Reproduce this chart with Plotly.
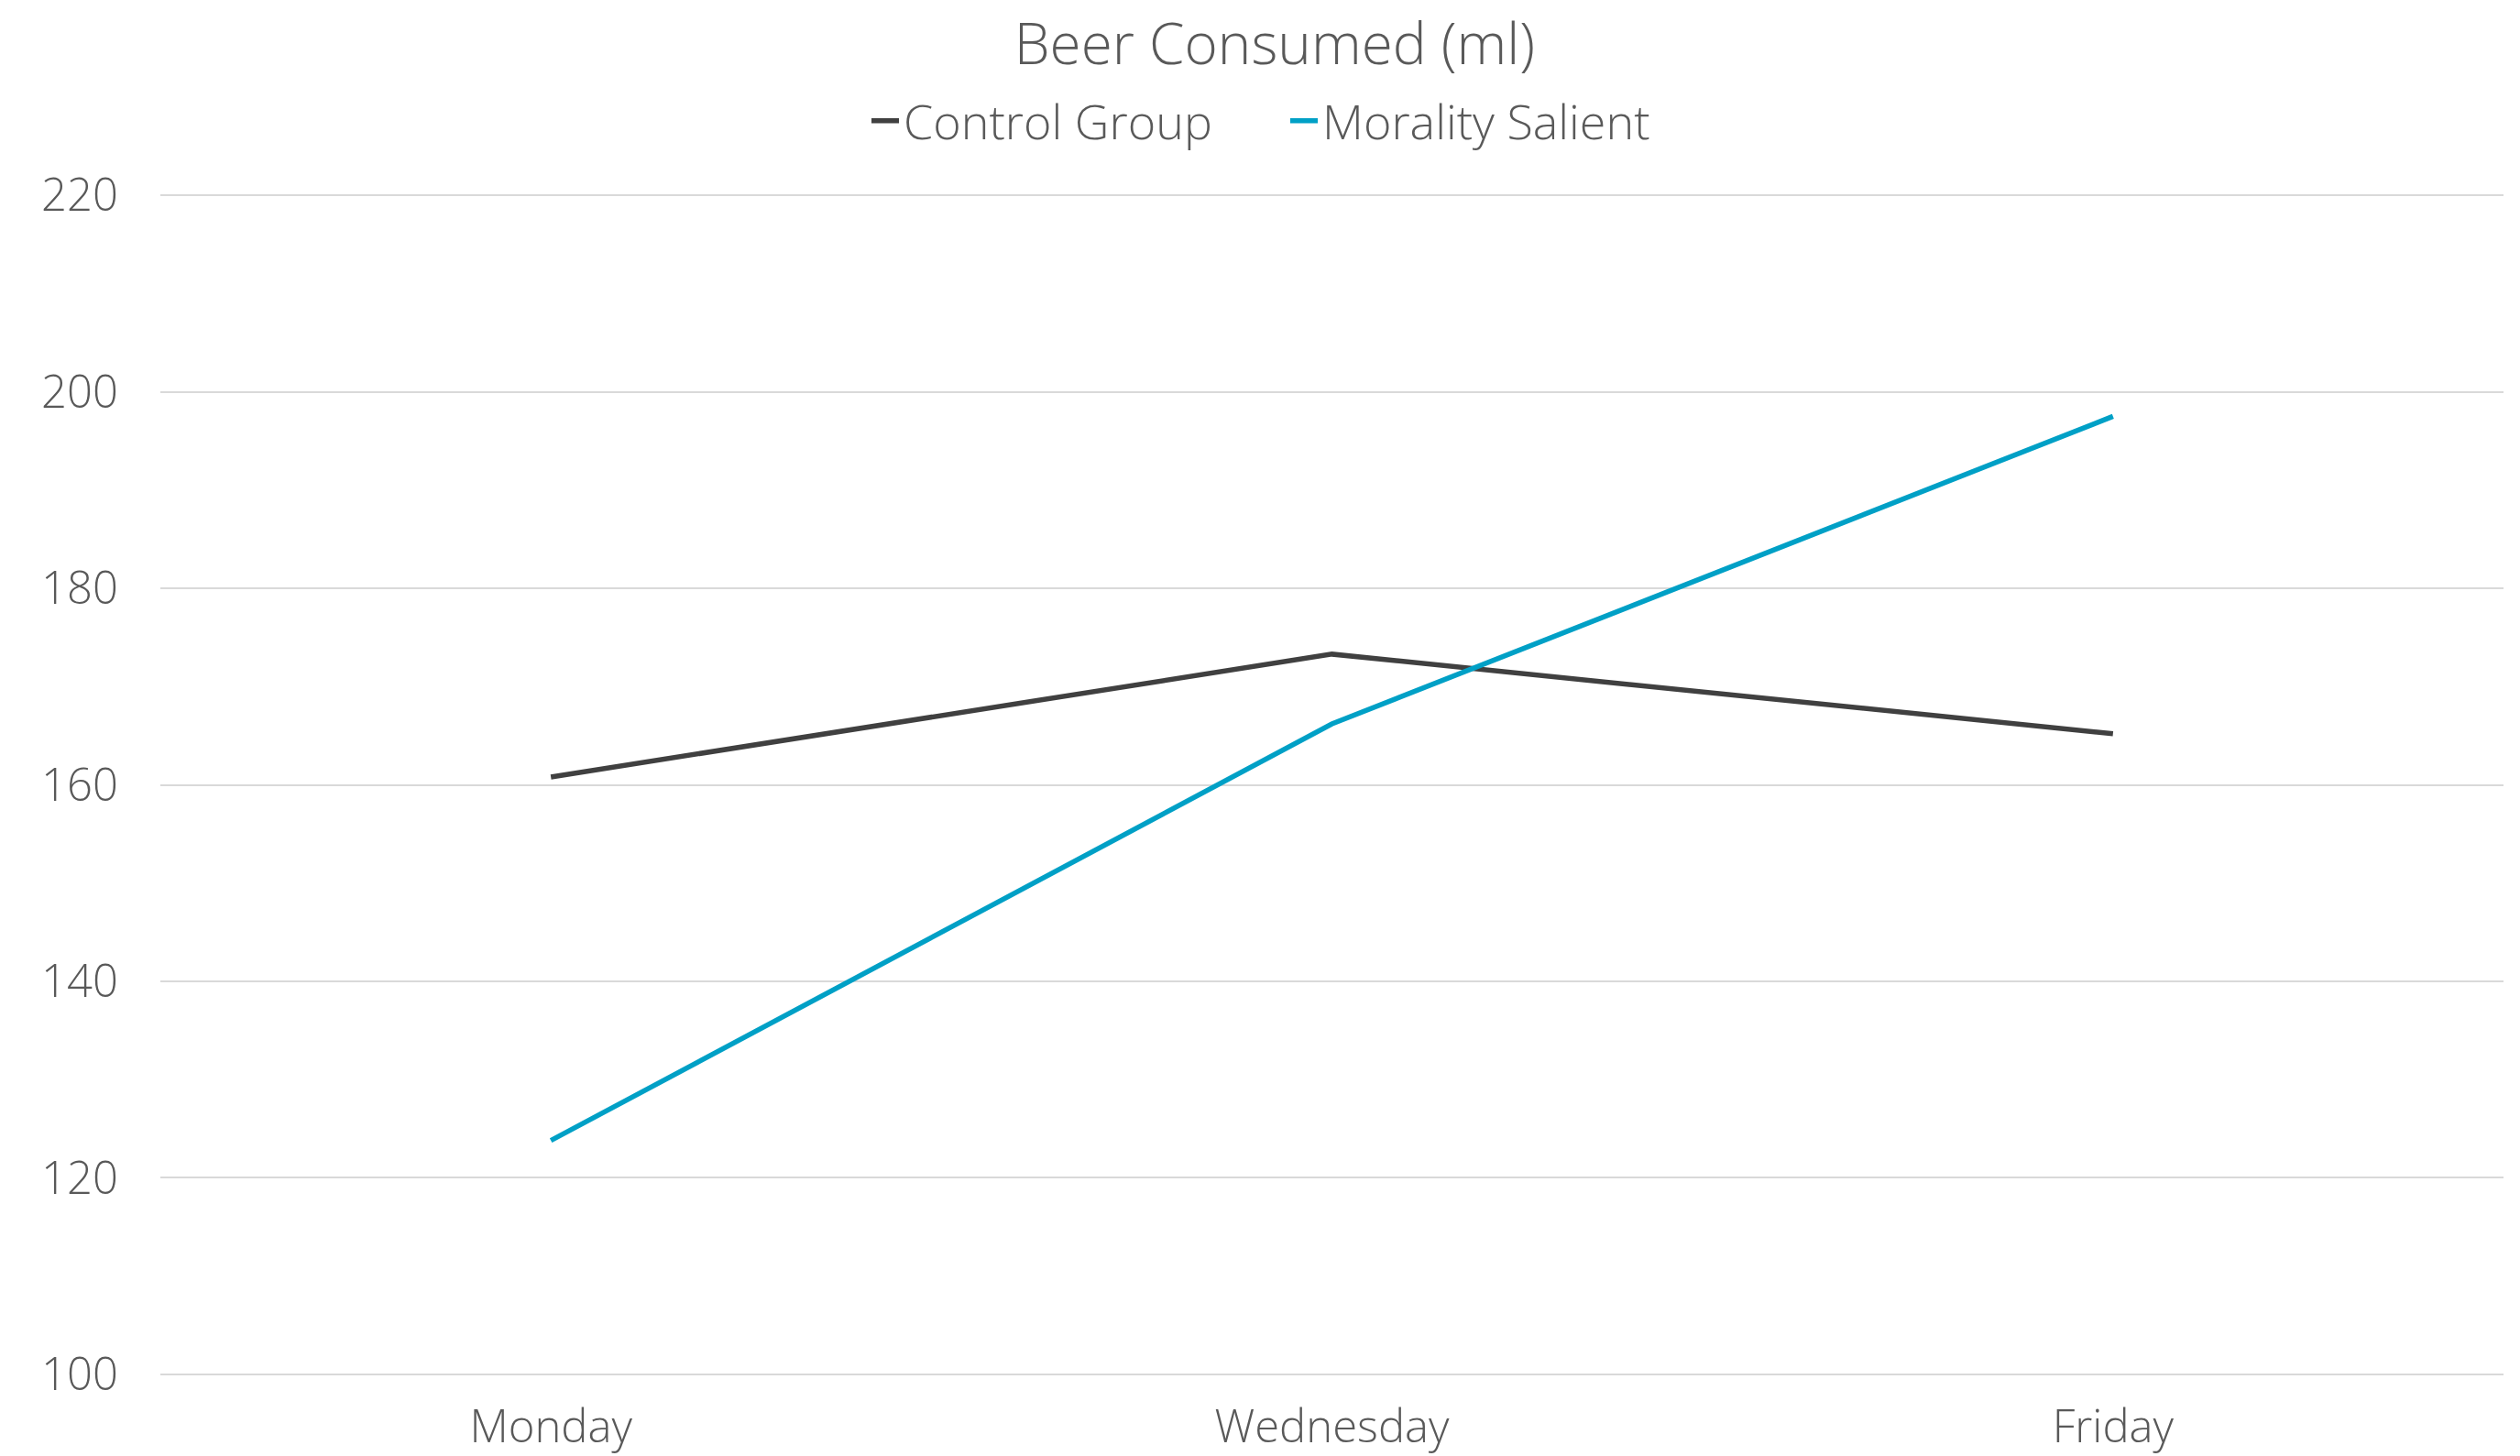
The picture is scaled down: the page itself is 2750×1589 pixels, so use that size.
import plotly.graph_objects as go

# Days of the study and mean beer consumed (ml) per group
days = ["Monday", "Wednesday", "Friday"]
control_group = [160.8, 173.3, 165.2]
morality_salient = [123.8, 166.2, 197.5]
y_ticks = [100, 120, 140, 160, 180, 200, 220]

W, H = 2750, 1589
TEXT = "#595959"
FONT = "Open Sans"

fig = go.Figure()
fig.add_trace(go.Scatter(
    x=days, y=control_group, mode="lines", name="Control Group",
    line=dict(color="#404040", width=5.5),
))
fig.add_trace(go.Scatter(
    x=days, y=morality_salient, mode="lines", name="Morality Salient",
    line=dict(color="#00A0C6", width=5.5),
))

fig.update_layout(
    width=W, height=H,
    paper_bgcolor="white", plot_bgcolor="white",
    # small padding on the y range keeps the 100 and 220 gridlines visible
    margin=dict(l=175, r=18, t=211, b=87),
    font=dict(family=FONT, color=TEXT, size=47),
    title=dict(
        text="Beer Consumed (ml)", x=1391 / W, xanchor="center", xref="container",
        y=1 - 48 / H, yanchor="middle", yref="container",
        font=dict(family=FONT, size=62, color=TEXT, weight=300),
    ),
    legend=dict(
        orientation="h", x=946 / W, xanchor="left", xref="container",
        y=1 - 132 / H, yanchor="middle", yref="container",
        font=dict(family=FONT, size=52, color=TEXT, weight=300),
        entrywidth=412, entrywidthmode="pixels", traceorder="normal",
    ),
    showlegend=True,
)

fig.update_xaxes(
    type="category", range=[-0.5, 2.5], automargin=False,
    showgrid=False, showline=False, zeroline=False,
    ticks="", ticklabelstandoff=22,
    tickfont=dict(family=FONT, size=49, color=TEXT, weight=300),
)
fig.update_yaxes(
    range=[99.8, 220.2], tickvals=y_ticks, ticktext=[str(v) for v in y_ticks],
    automargin=False,
    showgrid=True, gridcolor="#D9D9D9", gridwidth=2,
    showline=False, zeroline=False,
    ticks="", ticklabelstandoff=45,
    tickfont=dict(family=FONT, size=49, color=TEXT, weight=300),
)

fig.write_html("out.html")
